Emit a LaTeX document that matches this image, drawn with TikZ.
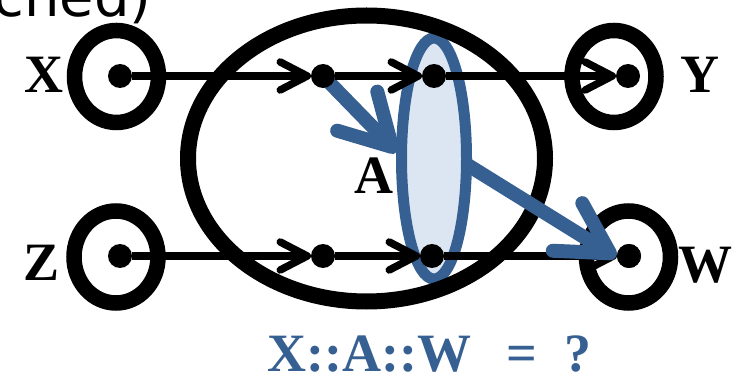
\documentclass[tikz,border=0pt]{standalone}
\usepackage{fontspec}
\setmainfont{Liberation Serif}
\newfontfamily\sansfnt{DejaVu Sans}
\usetikzlibrary{arrows.meta,shapes.geometric}
\definecolor{accblue}{HTML}{376092}
\definecolor{accfill}{HTML}{DCE6F2}
\begin{document}
\begin{tikzpicture}[x=1pt,y=-1pt,
  dot/.style={circle,fill=black,inner sep=0pt,minimum size=24pt,outer sep=0pt},
  ring/.style={draw=black,line width=15.5pt},
  flow/.style={draw=black,line width=7.5pt,-{Straight Barb[length=27pt,width=28pt,round]}},
  infl/.style={draw=accblue,line width=14pt,-{Straight Barb[length=50pt,width=56pt,round]}},
  lab/.style={font=\fontsize{54}{54}\selectfont\bfseries,inner sep=0pt}
]
\useasboundingbox (0,0) rectangle (742,374);
\clip (0,0) rectangle (742,374);

% cut-off text at the top
\node[font=\sansfnt\fontsize{56}{56}\selectfont, anchor=base east, inner sep=0pt] (cut) at (152,17) {ched)};

% blue set A
\node[ellipse, draw=accblue, fill=accfill, line width=11pt, inner sep=0pt, outer sep=0pt,
      minimum width=65pt, minimum height=241pt] (setA) at (434,158.5) {};

% big black ellipse
\draw[line width=16pt] (366.5,158.5) ellipse [x radius=178.5, y radius=143];

% rings
\draw[ring] (116.5,76.5) ellipse [x radius=42, y radius=46];
\draw[ring] (116,257) ellipse [x radius=42, y radius=46];
\draw[ring] (614,76.5) ellipse [x radius=42, y radius=46];
\draw[ring] (628.5,257) ellipse [x radius=42, y radius=46];

% positions of the dots
\coordinate (p1) at (323,76);
\coordinate (t1) at (397,152);
\coordinate (t2) at (616,257);

% blue connector from the middle dot (under the dots)
\draw[infl] (p1) -- (t1);

% dots
\node[dot] (dX) at (120,76) {};
\node[dot] (d1) at (p1) {};
\node[dot] (d2) at (434,76) {};
\node[dot] (dY) at (628,76) {};
\node[dot] (dZ) at (120,256) {};
\node[dot] (d3) at (323,256) {};
\node[dot] (d4) at (432,256) {};
\node[dot] (dW) at (629,256) {};

% black connectors
\draw[flow] (dX) -- (d1);
\draw[flow] (d1) -- (d2);
\draw[flow] (d2) -- (dY);
\draw[flow] (dZ) -- (d3);
\draw[flow] (d3) -- (d4);
\draw[flow] (d4) -- (dW);

% blue connector from the set A
\draw[infl] (setA.-10) -- (t2);
\node[dot] at (dW) {};

% labels
\node[lab] (lX) at (43.5,75) {X};
\node[lab] (lY) at (700,75) {Y};
\node[lab] (lZ) at (42,263) {Z};
\node[lab] (lW) at (705,265) {W};
\node[lab] (lA) at (374,176) {A};
\node[lab, text=accblue, anchor=base west] (formula) at (267,371) {X::A::W\hspace{35pt}=\hspace{28pt}?};
\end{tikzpicture}
\end{document}
